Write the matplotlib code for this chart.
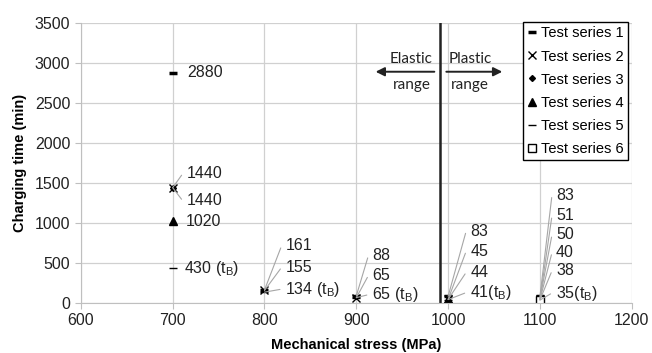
import matplotlib
matplotlib.use('Agg')
import matplotlib.pyplot as plt

plt.rcParams['font.family'] = ['Liberation Sans', 'DejaVu Sans']

# charging time (min) per test series at each mechanical stress (MPa)
stress = [700, 800, 900, 1000, 1100]
series_names = ['Test series 1', 'Test series 2', 'Test series 3',
                'Test series 4', 'Test series 5', 'Test series 6']
series_values = {
    'Test series 1': [2880, 161, 88, 83, 83],
    'Test series 2': [1440, 155, 65, 45, 51],
    'Test series 3': [1440, None, None, None, 50],
    'Test series 4': [1020, None, None, 44, 40],
    'Test series 5': [430, 134, 65, 41, 38],
    'Test series 6': [None, None, None, None, 35],
}
tB = '(t$_\\mathregular{B}$)'

# data labels: (stress, value, text)
labels = [
    (700, 2880, '2880'), (700, 1440, '1440'), (700, 1440, '1440'),
    (700, 1020, '1020'), (700, 430, '430 ' + tB),
    (800, 161, '161'), (800, 155, '155'), (800, 134, '134 ' + tB),
    (900, 88, '88'), (900, 65, '65'), (900, 65, '65 ' + tB),
    (1000, 83, '83'), (1000, 45, '45'), (1000, 44, '44'), (1000, 41, '41' + tB),
    (1100, 83, '83'), (1100, 51, '51'), (1100, 50, '50'), (1100, 40, '40'),
    (1100, 38, '38'), (1100, 35, '35' + tB),
]
# label offsets in pixels and whether a leader line is drawn
label_pos = [
    (15, 0, False), (14, 14, True), (14, -13, True), (13, 0, False), (11, 0, False),
    (21, 44, True), (21, 23, True), (21, 3, True),
    (16, 40, True), (16, 22, True), (16, 3, True),
    (22, 65, True), (22, 48, True), (22, 27, True), (22, 7, True),
    (16, 101, True), (16, 83, True), (16, 64, True), (16, 47, True),
    (16, 29, True), (16, 7, True),
]

markers = {
    'Test series 1': dict(marker='_', markersize=6, markeredgewidth=2.5),
    'Test series 2': dict(marker='x', markersize=6, markeredgewidth=1.0),
    'Test series 3': dict(marker='D', markersize=3),
    'Test series 4': dict(marker='^', markersize=6),
    'Test series 5': dict(marker='_', markersize=6, markeredgewidth=1.0),
    'Test series 6': dict(marker='s', markersize=6, markerfacecolor='white'),
}

fig = plt.figure(figsize=(6.52, 3.53), dpi=100)
ax = fig.add_axes([0.124, 0.142, 0.845, 0.793])

for name in series_names:
    xs = [s for s, v in zip(stress, series_values[name]) if v is not None]
    ys = [v for v in series_values[name] if v is not None]
    kw = dict(color='black', markeredgecolor='black')
    kw.update(markers[name])
    ax.plot(xs, ys, linestyle='none', label=name, **kw)

for (x, y, txt), (dx, dy, lead) in zip(labels, label_pos):
    arrow = None
    if lead:
        arrow = dict(arrowstyle='-', color='#a6a6a6', lw=0.8, relpos=(0, 0.5),
                     shrinkA=2, shrinkB=0,
                     connectionstyle='arc,angleA=180,armA=4,angleB=0,armB=0,rad=0')
    ax.annotate(txt, xy=(x, y), xytext=(dx, dy), textcoords='offset pixels',
                ha='left', va='center', fontsize=11.5, color='#222222',
                arrowprops=arrow)

# elastic / plastic boundary
ax.axvline(991, color='#222222', lw=1.8)
ax.annotate('', xy=(918, 2890), xytext=(988, 2890),
            arrowprops=dict(arrowstyle='-|>', color='#222222', lw=1.4, mutation_scale=13))
ax.annotate('', xy=(1062, 2890), xytext=(995, 2890),
            arrowprops=dict(arrowstyle='-|>', color='#222222', lw=1.4, mutation_scale=13))
txt_kw = dict(ha='center', va='center', fontsize=11, family='Lato', color='#222222')
ax.text(960, 3050, 'Elastic', **txt_kw)
ax.text(960, 2720, 'range', **txt_kw)
ax.text(1024, 3050, 'Plastic', **txt_kw)
ax.text(1024, 2720, 'range', **txt_kw)

ax.set_xlim(600, 1200)
ax.set_ylim(0, 3500)
ax.set_xticks(range(600, 1201, 100))
ax.set_yticks(range(0, 3501, 500))
ax.grid(True, color='#d0d0d0', lw=0.9)
ax.set_axisbelow(True)
for side in ['top', 'right']:
    ax.spines[side].set_visible(False)
for side in ['left', 'bottom']:
    ax.spines[side].set_color('#bfbfbf')
ax.tick_params(colors='#bfbfbf', labelcolor='#222222', labelsize=11.5, length=4)

ax.set_xlabel('Mechanical stress (MPa)', fontsize=10.5, fontweight='bold', labelpad=7)
ax.set_ylabel('Charging time (min)', fontsize=10.5, fontweight='bold', labelpad=6)

leg = ax.legend(loc='upper right', bbox_to_anchor=(0.993, 1.003), fontsize=10.5,
                frameon=True, fancybox=False, edgecolor='black', framealpha=1,
                handlelength=0.6, handletextpad=0.3, labelspacing=0.62,
                borderpad=0.3, borderaxespad=0)
leg.get_frame().set_linewidth(1.0)

fig.savefig('out.png', dpi=100)
